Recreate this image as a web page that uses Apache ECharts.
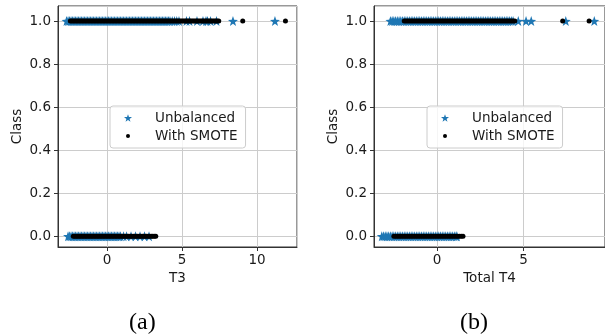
<!DOCTYPE html>
<html>
<head>
<meta charset="utf-8">
<script src="https://cdn.jsdelivr.net/npm/echarts@6/dist/echarts.min.js"></script>
<style>
  html, body { margin: 0; padding: 0; background: #fff; }
  #chart { width: 605px; height: 334px; }
</style>
</head>
<body>
<div id="chart"></div>
<script>
const t3Unbal1 = [-2.7, -2.6, -2.5, -2.4, -2.3, -2.2, -2.1, -2.0, -1.9, -1.8, -1.7, -1.6, -1.5, -1.4, -1.3,
  -1.2, -1.1, -1.0, -0.9, -0.8, -0.7, -0.6, -0.5, -0.4, -0.3, -0.2, -0.1, 0.0, 0.1, 0.2, 0.3, 0.4, 0.5,
  0.6, 0.7, 0.8, 0.9, 1.0, 1.1, 1.2, 1.3, 1.4, 1.5, 1.6, 1.7, 1.8, 1.9, 2.0, 2.1, 2.2, 2.3, 2.4, 2.5,
  2.6, 2.7, 2.8, 2.9, 3.0, 3.1, 3.2, 3.3, 3.4, 3.5, 3.6, 3.7, 3.8, 3.9, 4.0, 4.1, 4.2,
  4.35, 4.5, 4.65, 4.8, 5.3, 5.5, 6.0, 6.4, 6.6, 6.7, 6.9, 7.3, 8.4, 11.2]
const t3Smote1 = [-2.45, -2.35, -2.25, -2.15, -2.05, -1.95, -1.85, -1.75, -1.65, -1.55, -1.45, -1.35,
  -1.25, -1.15, -1.05, -0.95, -0.85, -0.75, -0.65, -0.55, -0.45, -0.35, -0.25, -0.15, -0.05, 0.05, 0.15,
  0.25, 0.35, 0.45, 0.55, 0.65, 0.75, 0.85, 0.95, 1.05, 1.15, 1.25, 1.35, 1.45, 1.55, 1.65, 1.75, 1.85,
  1.95, 2.05, 2.15, 2.25, 2.35, 2.45, 2.55, 2.65, 2.75, 2.85, 2.95, 3.05, 3.15, 3.25, 3.35, 3.45, 3.55,
  3.65, 3.75, 3.85, 3.95, 4.05, 4.15, 4.25, 4.35, 4.45, 4.55, 4.65, 4.75, 4.85, 4.95, 5.05, 5.15, 5.25,
  5.35, 5.45, 5.55, 5.65, 5.75, 5.85, 5.95, 6.05, 6.15, 6.25, 6.35, 6.45, 6.55, 6.65, 6.75, 6.85, 6.95,
  7.05, 7.15, 7.25, 7.35, 7.45, 9.05, 11.9]
const t3Unbal0 = [-2.6, -2.5, -2.4, -2.3, -2.2, -2.1, -2.0, -1.9, -1.8, -1.7, -1.6, -1.5, -1.4, -1.3, -1.2,
  -1.1, -1.0, -0.9, -0.8, -0.7, -0.6, -0.5, -0.4, -0.3, -0.2, -0.1, 0.0, 0.1, 0.2, 0.3, 0.4, 0.5, 0.6,
  0.7, 0.8, 0.9, 1.1, 1.3, 1.6, 1.9, 2.2, 2.5, 2.8]
const t3Smote0 = [-2.25, -2.15, -2.05, -1.95, -1.85, -1.75, -1.65, -1.55, -1.45, -1.35, -1.25, -1.15,
  -1.05, -0.95, -0.85, -0.75, -0.65, -0.55, -0.45, -0.35, -0.25, -0.15, -0.05, 0.05, 0.15, 0.25, 0.35,
  0.45, 0.55, 0.65, 0.75, 0.85, 0.95, 1.05, 1.15, 1.25, 1.35, 1.45, 1.55, 1.65, 1.75, 1.85, 1.95, 2.05,
  2.15, 2.25, 2.35, 2.45, 2.55, 2.65, 2.75, 2.85, 2.95, 3.05, 3.15, 3.25]

// (b) Total T4
const t4Unbal1 = [-2.7, -2.6, -2.5, -2.4, -2.3, -2.2, -2.1, -2.0, -1.9, -1.8, -1.7, -1.6, -1.5, -1.4, -1.3,
  -1.2, -1.1, -1.0, -0.9, -0.8, -0.7, -0.6, -0.5, -0.4, -0.3, -0.2, -0.1, 0.0, 0.1, 0.2, 0.3, 0.4, 0.5,
  0.6, 0.7, 0.8, 0.9, 1.0, 1.1, 1.2, 1.3, 1.4, 1.5, 1.6, 1.7, 1.8, 1.9, 2.0, 2.1, 2.2, 2.3, 2.4, 2.5,
  2.6, 2.7, 2.8, 2.9, 3.0, 3.1, 3.2, 3.3, 3.4, 3.5, 3.6, 3.7, 3.8, 3.9, 4.0, 4.1, 4.2, 4.3, 4.4,
  4.7, 5.15, 5.45, 7.45, 9.1]
const t4Smote1 = [-1.9, -1.8, -1.7, -1.6, -1.5, -1.4, -1.3, -1.2, -1.1, -1.0, -0.9, -0.8, -0.7, -0.6, -0.5,
  -0.4, -0.3, -0.2, -0.1, 0.0, 0.1, 0.2, 0.3, 0.4, 0.5, 0.6, 0.7, 0.8, 0.9, 1.0, 1.1, 1.2, 1.3, 1.4,
  1.5, 1.6, 1.7, 1.8, 1.9, 2.0, 2.1, 2.2, 2.3, 2.4, 2.5, 2.6, 2.7, 2.8, 2.9, 3.0, 3.1, 3.2, 3.3, 3.4,
  3.5, 3.6, 3.7, 3.8, 3.9, 4.0, 4.1, 4.2, 4.3, 4.4, 4.5, 7.27, 8.8]
const t4Unbal0 = [-3.2, -3.1, -3.0, -2.9, -2.8, -2.7, -2.6, -2.5, -2.4, -2.3, -2.2, -2.1, -2.0, -1.9, -1.8,
  -1.7, -1.6, -1.5, -1.4, -1.3, -1.2, -1.1, -1.0, -0.9, -0.8, -0.7, -0.6, -0.5, -0.4, -0.3, -0.2, -0.1,
  0.0, 0.1, 0.2, 0.3, 0.4, 0.5, 0.6, 0.7, 0.8, 0.9, 1.0, 1.1, 1.15]
const t4Smote0 = [-2.5, -2.4, -2.3, -2.2, -2.1, -2.0, -1.9, -1.8, -1.7, -1.6, -1.5, -1.4, -1.3, -1.2, -1.1,
  -1.0, -0.9, -0.8, -0.7, -0.6, -0.5, -0.4, -0.3, -0.2, -0.1, 0.0, 0.1, 0.2, 0.3, 0.4, 0.5, 0.6, 0.7,
  0.8, 0.9, 1.0, 1.1, 1.2, 1.3, 1.4, 1.5]

const xNames = ['T3', 'Total T4']
const xRanges = [[-3.27, 12.67], [-3.65, 9.72]]
const yRange = [-0.05, 1.07]
const seriesNames = ['Unbalanced', 'With SMOTE']

const STAR = 'path://M0,-10 L2.35,-3.24 L9.51,-3.09 L3.8,1.24 L5.88,8.09 L0,4 L-5.88,8.09 L-3.8,1.24 L-9.51,-3.09 L-2.35,-3.24 Z'
// small dot inside a wider box so the legend icon stays small
const DOT = 'path://M-10,-10 M10,10 M5,0 A5,5 0 1 1 -5,0 A5,5 0 1 1 5,0 Z'
const FONT = 'DejaVu Sans'
const TXT = '#1a1a1a'

const toPts = (xs, cls) => xs.map(x => [x, cls])

const chart = echarts.init(document.getElementById('chart'))

const grids = [
  { left: 58, top: 6, width: 239, height: 241 },
  { left: 374, top: 6, width: 239, height: 241 }
].map(g => ({ ...g, show: true, borderColor: '#333', borderWidth: 1, backgroundColor: 'transparent' }))

const xAxes = xNames.map((name, i) => ({
  type: 'value', gridIndex: i, min: xRanges[i][0], max: xRanges[i][1], splitNumber: 3,
  name: name, nameLocation: 'middle', nameGap: 24,
  nameTextStyle: { fontFamily: FONT, fontSize: 13.5, color: TXT },
  axisLine: { show: true, onZero: false, lineStyle: { color: '#333' } },
  axisTick: { show: true, length: 4, lineStyle: { color: '#333' } },
  axisLabel: { showMinLabel: false, showMaxLabel: false, margin: 6, fontFamily: FONT, fontSize: 13.5, color: TXT },
  splitLine: { show: true, lineStyle: { color: '#cccccc', width: 1 } }
}))

const yAxes = [0, 1].map(i => ({
  type: 'value', gridIndex: i, min: yRange[0], max: yRange[1], splitNumber: 5,
  name: 'Class', nameLocation: 'middle', nameGap: 34,
  nameTextStyle: { fontFamily: FONT, fontSize: 13.5, color: TXT },
  axisLine: { show: true, onZero: false, lineStyle: { color: '#333' } },
  axisTick: { show: true, length: 4, lineStyle: { color: '#333' } },
  axisLabel: {
    showMinLabel: false, showMaxLabel: false, margin: 7, fontFamily: FONT, fontSize: 13.5, color: TXT,
    formatter: v => v.toFixed(1)
  },
  splitLine: { show: true, lineStyle: { color: '#cccccc', width: 1 } }
}))

const panels = [
  { unbal: [t3Unbal1, t3Unbal0], smote: [t3Smote1, t3Smote0] },
  { unbal: [t4Unbal1, t4Unbal0], smote: [t4Smote1, t4Smote0] }
]

const series = []
panels.forEach((p, i) => {
  series.push({
    name: seriesNames[0], type: 'scatter', xAxisIndex: i, yAxisIndex: i,
    symbol: STAR, symbolSize: 10, itemStyle: { color: '#1f77b4', opacity: 1 },
    data: toPts(p.unbal[0], 1).concat(toPts(p.unbal[1], 0))
  })
  series.push({
    name: seriesNames[1], type: 'scatter', xAxisIndex: i, yAxisIndex: i,
    symbol: 'circle', symbolSize: 5, itemStyle: { color: '#000', opacity: 1 },
    data: toPts(p.smote[0], 1).concat(toPts(p.smote[1], 0))
  })
})

const legendBase = {
  orient: 'vertical', top: 106, padding: [5, 8, 5, 14], itemGap: 4,
  itemWidth: 8, itemHeight: 8,
  backgroundColor: 'rgba(255,255,255,0.8)', borderColor: '#cccccc', borderWidth: 1, borderRadius: 3,
  textStyle: { fontFamily: FONT, fontSize: 13.5, color: TXT, padding: [0, 0, 0, 18] },
  selectedMode: false,
  data: [
    { name: seriesNames[0], icon: STAR },
    { name: seriesNames[1], icon: DOT }
  ]
}

chart.setOption({
  animation: false,
  grid: grids,
  xAxis: xAxes,
  yAxis: yAxes,
  legend: [
    { ...legendBase, left: 110 },
    { ...legendBase, left: 427 }
  ],
  graphic: [
    { type: 'text', left: 129, top: 311, style: { text: '(a)', font: '24px "Liberation Serif"', fill: '#000' } },
    { type: 'text', left: 460, top: 311, style: { text: '(b)', font: '24px "Liberation Serif"', fill: '#000' } }
  ],
  series: series
})
</script>
</body>
</html>
